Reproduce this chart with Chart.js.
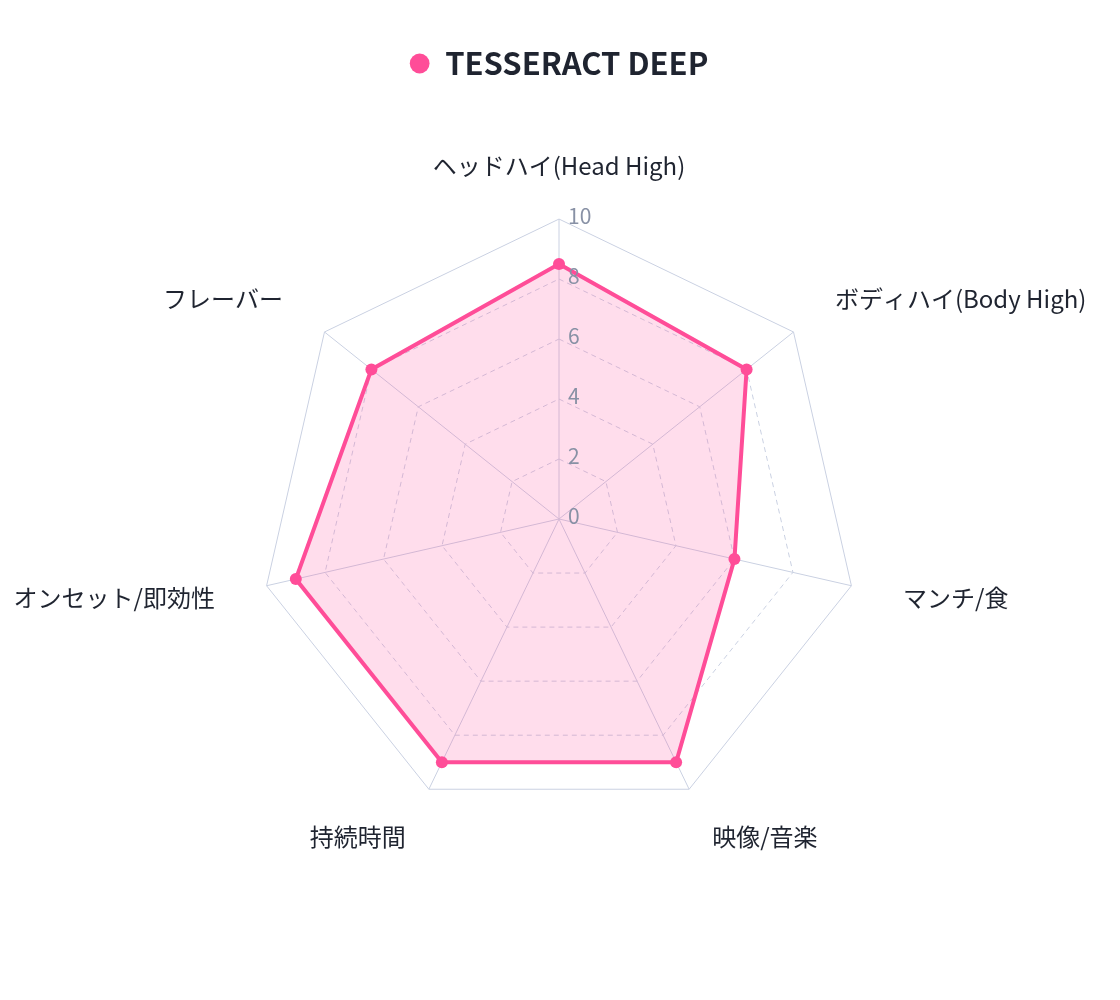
<!DOCTYPE html>
<html lang="ja">
<head>
  <meta charset="UTF-8">
  <title>TESSERACT DEEP</title>
  <script src="https://cdn.jsdelivr.net/npm/chart.js"></script>
  <style>
    body { margin: 0; background: #fff; }
    .wrap { position: relative; width: 1120px; height: 1000px; }
  </style>
</head>
<body>
  <div class="wrap"><canvas id="radar"></canvas></div>
  <script>
    // データ
    const axisLabels = ['ヘッドハイ(Head High)', 'ボディハイ(Body High)', 'マンチ/食', '映像/音楽', '持続時間', 'オンセット/即効性', 'フレーバー'];
    const seriesName = 'TESSERACT DEEP';
    const seriesValues = [8.5, 8, 6, 9, 9, 9, 8];
    const tickValues = [0, 2, 4, 6, 8, 10];

    const pink = '#ff4d98';
    const gridColor = '#cad1e2';
    Chart.defaults.font.family = "'Noto Sans CJK JP', sans-serif";

    // 目盛りの数字は軸の右側に描く
    const tickLabels = {
      id: 'tickLabels',
      afterDatasetsDraw(chart) {
        const r = chart.scales.r;
        const ctx = chart.ctx;
        ctx.save();
        ctx.font = "21px 'Noto Sans CJK JP', sans-serif";
        ctx.fillStyle = '#8891a5';
        ctx.textAlign = 'left';
        ctx.textBaseline = 'middle';
        tickValues.forEach(v => {
          const d = r.getDistanceFromCenterForValue(v);
          ctx.fillText(String(v), r.xCenter + 9, r.yCenter - d - 3);
        });
        ctx.restore();
      }
    };

    // 凡例をレーダーの中心に合わせる
    const centerLegend = {
      id: 'centerLegend',
      afterLayout(chart) {
        const r = chart.scales.r;
        const lg = chart.legend;
        const d = r.xCenter - (lg.left + lg.right) / 2;
        lg.left += d;
        lg.right += d;
      }
    };

    new Chart(document.getElementById('radar'), {
      type: 'radar',
      data: {
        labels: axisLabels,
        datasets: [{
          label: seriesName,
          data: seriesValues,
          borderColor: pink,
          backgroundColor: 'rgba(255, 77, 152, 0.19)',
          borderWidth: 4,
          pointRadius: 6,
          pointBackgroundColor: pink,
          pointBorderColor: pink,
          pointBorderWidth: 0,
          fill: true
        }]
      },
      options: {
        responsive: true,
        maintainAspectRatio: false,
        animation: false,
        layout: { padding: { top: 38, left: 2.5, right: 26.5, bottom: 95 } },
        plugins: {
          legend: {
            labels: {
              usePointStyle: true,
              pointStyle: 'circle',
              boxWidth: 20,
              boxHeight: 14,
              padding: 10,
              color: '#1f2430',
              font: { size: 31, weight: 'bold' }
            }
          },
          tooltip: { enabled: false }
        },
        scales: {
          r: {
            min: tickValues[0],
            max: tickValues[tickValues.length - 1],
            ticks: { display: false, stepSize: 2 },
            grid: { color: gridColor, lineWidth: 1 },
            border: { dash: ctx => (ctx.tick && ctx.tick.value === 10) ? [] : [5, 4] },
            angleLines: { color: gridColor, lineWidth: 1 },
            pointLabels: {
              color: '#1f2430',
              padding: 53,
              font: { size: 24, lineHeight: 0.01 }
            }
          }
        }
      },
      plugins: [tickLabels, centerLegend]
    });
  </script>
</body>
</html>
